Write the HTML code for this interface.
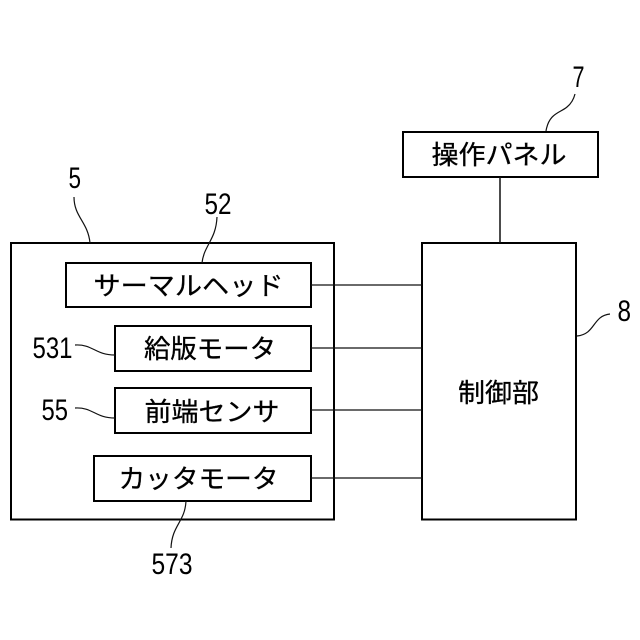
<!DOCTYPE html>
<html><head><meta charset="utf-8">
<style>html,body{margin:0;padding:0;background:#fff}svg{display:block}
text{font-family:"Liberation Sans","Noto Sans CJK JP",sans-serif;fill:#000}
.j{stroke:#000;stroke-width:.3}</style></head>
<body>
<svg width="640" height="640" viewBox="0 0 640 640" xmlns="http://www.w3.org/2000/svg">
<g fill="none" stroke="#000" stroke-width="2">
<rect x="11" y="243" width="323" height="276.500"/>
<rect x="66" y="263" width="245" height="44"/>
<rect x="115" y="326" width="196" height="45"/>
<rect x="115" y="388" width="196" height="45"/>
<rect x="94" y="456" width="217" height="45"/>
<rect x="422" y="243" width="154" height="276.500"/>
<rect x="403" y="132" width="195" height="45"/>
</g>
<g fill="none" stroke="#111" stroke-width="1.2">
<path d="M311 285H422M311 348H422M311 410H422M311 478H422"/>
<path d="M500 177V243" stroke-width="1.5"/>
<path d="M546 131C549 113 560 113 567 107C572 103 574 98 575 94"/>
<path d="M577 336C596 334 592 316 610 314"/>
<path d="M74 197C74 217 88 222 90 243"/>
<path d="M217 217C216 240 204 245 202 263"/>
<path d="M75 345C93 344 95 355 115 355"/>
<path d="M75 408C93 407 95 418 115 418"/>
<path d="M186 501C185 522 172 525 171 548"/>
</g>
<g class="j" font-size="26" text-anchor="middle">
<text x="499" y="164" textLength="135" lengthAdjust="spacingAndGlyphs">操作パネル</text>
<text x="188.500" y="295" textLength="190" lengthAdjust="spacingAndGlyphs">サーマルヘッド</text>
<text x="210" y="358" textLength="132" lengthAdjust="spacingAndGlyphs">給版モータ</text>
<text x="212" y="421" textLength="135" lengthAdjust="spacingAndGlyphs">前端センサ</text>
<text x="198.500" y="488" textLength="160" lengthAdjust="spacingAndGlyphs">カッタモータ</text>
<text x="498.500" y="402" textLength="81" lengthAdjust="spacingAndGlyphs">制御部</text>
</g>
<g font-size="30">
<text x="572.500" y="87" textLength="12" lengthAdjust="spacingAndGlyphs">7</text>
<text x="68.500" y="188" textLength="12.500" lengthAdjust="spacingAndGlyphs">5</text>
<text x="204.500" y="214" textLength="27" lengthAdjust="spacingAndGlyphs">52</text>
<text x="32.500" y="358" textLength="40" lengthAdjust="spacingAndGlyphs">531</text>
<text x="41.500" y="420" textLength="26.500" lengthAdjust="spacingAndGlyphs">55</text>
<text x="151.500" y="574" textLength="41" lengthAdjust="spacingAndGlyphs">573</text>
<text x="617.500" y="321" textLength="13.500" lengthAdjust="spacingAndGlyphs">8</text>
</g>
</svg>
</body></html>
